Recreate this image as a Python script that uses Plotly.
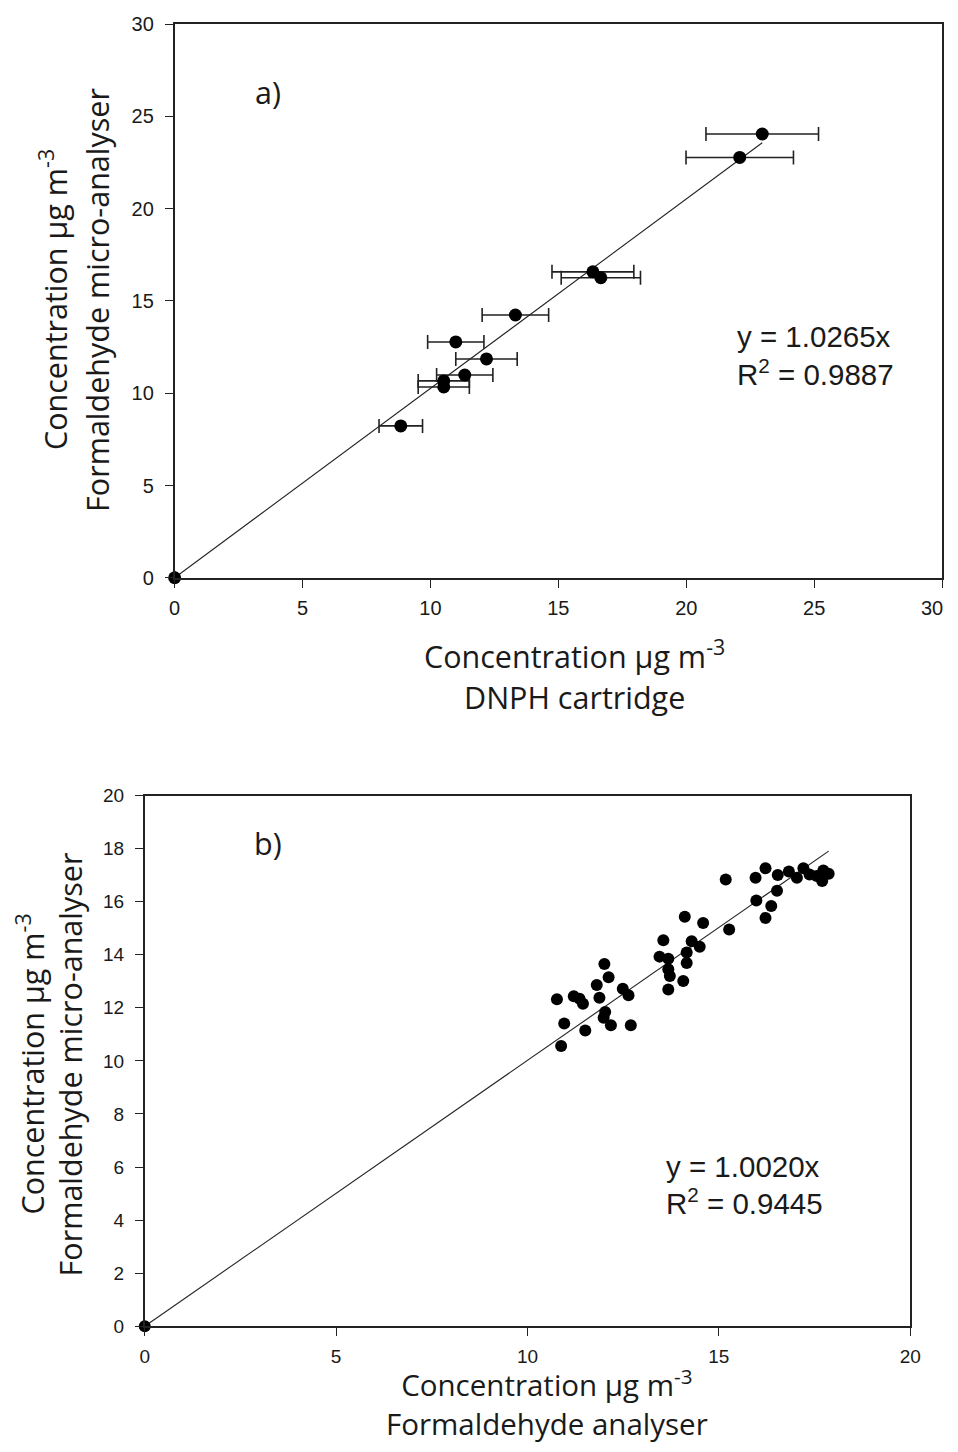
import plotly.graph_objects as go

# ---------------- Panel a data ----------------
a_x = [0.0, 8.84, 10.52, 10.52, 11.34, 12.19, 10.99, 13.32, 16.35, 16.66, 22.09, 22.97]
a_y = [0.0, 8.23, 10.67, 10.34, 10.99, 11.86, 12.78, 14.24, 16.58, 16.26, 22.78, 24.05]
a_xerr = [0.0, 0.85, 1.0, 1.0, 1.1, 1.2, 1.1, 1.3, 1.6, 1.55, 2.1, 2.2]
a_slope = 1.0265
a_r2 = 0.9887

# ---------------- Panel b data ----------------
b_x = [0.0,
       12.01, 12.12, 11.81, 11.88, 10.77, 11.21, 11.36, 11.45, 12.49, 12.64,
       12.03, 11.99, 12.18, 10.96, 11.51, 12.70, 10.88,
       14.11, 14.59, 15.27, 13.55, 14.29, 14.50, 13.45, 13.68, 14.16, 14.16,
       13.68, 13.72, 14.07, 13.68,
       15.18, 15.96, 16.22, 16.52, 15.98, 16.37, 16.22,
       16.54, 16.83, 17.04, 17.21, 17.37, 17.56, 17.70, 17.73, 17.87]
b_y = [0.0,
       13.65, 13.15, 12.86, 12.38, 12.32, 12.44, 12.34, 12.15, 12.72, 12.47,
       11.84, 11.63, 11.34, 11.41, 11.15, 11.34, 10.56,
       15.43, 15.20, 14.95, 14.55, 14.51, 14.30, 13.93, 13.85, 14.09, 13.69,
       13.45, 13.20, 13.01, 12.69,
       16.84, 16.90, 17.26, 16.41, 16.05, 15.84, 15.39,
       17.01, 17.14, 16.90, 17.26, 17.03, 16.97, 16.78, 17.18, 17.05]
b_slope = 1.0020
b_r2 = 0.9445

a_ticks = [0, 5, 10, 15, 20, 25, 30]
a_xticklabels = ["0", "5", "10", "15", "20", "25", ""]   # last label drawn separately (edge)
a_last_label = "30"
b_xticks = [0, 5, 10, 15, 20]
b_yticks = [0, 2, 4, 6, 8, 10, 12, 14, 16, 18, 20]

# Figure size and mapping from target picture pixels to figure coordinates
W, H = 966, 1462
SX, CX = 0.9857, 11.8
SY, CY = 0.9864, 17.8
def px(x):
    return ((x - CX) / SX) / W
def py(y):
    return 1 - ((y - CY) / SY) / H

TICKFONT_A = dict(family="Liberation Sans, Arial", size=20, color="#1a1a1a")
TICKFONT_B = dict(family="Liberation Sans, Arial", size=19, color="#1a1a1a")
TITLE_FAMILY = "Open Sans, Lato, sans-serif"
EQ_FAMILY = "Liberation Sans, Arial"

fig = go.Figure()

# Panel a
a_line_x = [0, max(a_x)]
a_line_y = [a_slope * v for v in a_line_x]
fig.add_trace(go.Scatter(x=a_line_x, y=a_line_y, mode="lines",
                         line=dict(color="#222", width=1.1),
                         xaxis="x", yaxis="y", showlegend=False, hoverinfo="skip"))
fig.add_trace(go.Scatter(x=a_x, y=a_y, mode="markers",
                         marker=dict(color="black", size=13),
                         error_x=dict(type="data", array=a_xerr, color="#222",
                                      thickness=1.6, width=7),
                         cliponaxis=False,
                         xaxis="x", yaxis="y", showlegend=False))

# Panel b
b_line_x = [0, max(b_x)]
b_line_y = [b_slope * v for v in b_line_x]
fig.add_trace(go.Scatter(x=b_line_x, y=b_line_y, mode="lines",
                         line=dict(color="#222", width=1.1),
                         xaxis="x2", yaxis="y2", showlegend=False, hoverinfo="skip"))
fig.add_trace(go.Scatter(x=b_x, y=b_y, mode="markers",
                         marker=dict(color="black", size=12),
                         cliponaxis=False,
                         xaxis="x2", yaxis="y2", showlegend=False))

def axis_style(font, standoff):
    return dict(showgrid=False, zeroline=False, showline=True, linecolor="#222",
                linewidth=1.7, mirror=True, ticks="outside", ticklen=8,
                tickwidth=1.4, tickcolor="#222", tickfont=font,
                ticklabelstandoff=standoff)

fig.update_layout(
    width=W, height=H,
    margin=dict(l=0, r=0, t=0, b=0),
    paper_bgcolor="white", plot_bgcolor="white",
    xaxis=dict(domain=[px(173), px(943)], range=[0, 30], tickmode="array",
               tickvals=a_ticks, ticktext=a_xticklabels,
               anchor="y", **axis_style(TICKFONT_A, 3)),
    yaxis=dict(domain=[py(578), py(24)], range=[0, 30], tickvals=a_ticks,
               anchor="x", **axis_style(TICKFONT_A, 7)),
    xaxis2=dict(domain=[px(143), px(911)], range=[0, 20], tickvals=b_xticks,
                anchor="y2", **axis_style(TICKFONT_B, 4)),
    yaxis2=dict(domain=[py(1327), py(796)], range=[0, 20], tickvals=b_yticks,
                anchor="x2", **axis_style(TICKFONT_B, 7)),
)

ann = []
def text(x, y, s, angle=0, size=30.5, xanchor="center", family=TITLE_FAMILY):
    ann.append(dict(x=px(x), y=py(y), xref="paper", yref="paper", text=s,
                    showarrow=False, textangle=angle,
                    font=dict(family=family, size=size, color="#1a1a1a"),
                    xanchor=xanchor, yanchor="middle"))

# last x tick label of panel a, kept inside the visible page edge
text(946, 608, a_last_label, size=20, xanchor="right", family="Liberation Sans, Arial")

# Panel a texts
text(574, 655, "Concentration µg m<sup>-3</sup>")
text(574, 697, "DNPH cartridge")
text(52, 300, "Concentration µg m<sup>-3</sup>", angle=-90)
text(95, 300, "Formaldehyde micro-analyser", angle=-90)
text(252, 92, "a)", xanchor="left")
text(735, 337, "y = 1.0265x", xanchor="left", size=29.5, family=EQ_FAMILY)
text(735, 373, "R<sup>2</sup> = 0.9887", xanchor="left", size=29.5, family=EQ_FAMILY)

# Panel b texts
text(547, 1404, "Concentration µg m<sup>-3</sup><br>Formaldehyde analyser", size=29.5)
text(28, 1065, "Concentration µg m<sup>-3</sup>", angle=-90)
text(68, 1065, "Formaldehyde micro-analyser", angle=-90)
text(251, 843, "b)", xanchor="left")
text(664, 1167, "y = 1.0020x", xanchor="left", size=29.5, family=EQ_FAMILY)
text(664, 1202, "R<sup>2</sup> = 0.9445", xanchor="left", size=29.5, family=EQ_FAMILY)

fig.update_layout(annotations=ann)
fig.write_html("out.html", config=dict(displayModeBar=False))
